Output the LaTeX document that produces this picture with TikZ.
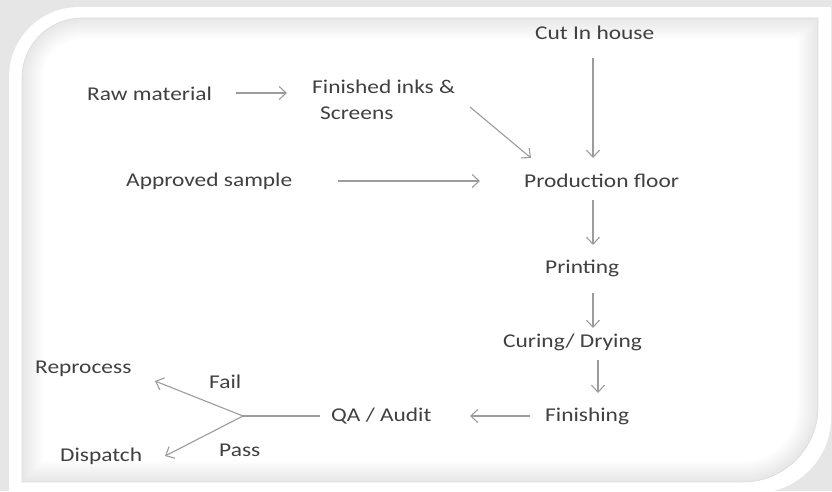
\documentclass[tikz,border=0pt]{standalone}
\usepackage{fontspec}
\setmainfont[FakeStretch=1.2]{Carlito}
\usetikzlibrary{arrows.meta,calc}
\definecolor{txt}{HTML}{404040}
\definecolor{arrc}{HTML}{9C9C9C}
\definecolor{bgc}{HTML}{E6E6E6}
\begin{document}
\begin{tikzpicture}[x=1pt,y=-1pt,
  lbl/.style={font=\fontsize{19.5}{23}\selectfont, text=txt, inner sep=0pt, anchor=west},
  conn/.style={draw=arrc, line width=1.1pt, -{Straight Barb[length=7pt,width=13pt]}},
  plainline/.style={draw=arrc, line width=1.1pt}]
\useasboundingbox (0,0) rectangle (832,491);
\fill[bgc] (0,0) rectangle (832,491);
% outer white frame
\fill[white] (9,495) -- (9,77) .. controls (9,38.4) and (40.4,7) .. (79,7) -- (831,7)
  -- (831,418) .. controls (831,459) and (797,493) .. (756,493) -- (9,493) -- cycle;
% inner panel with soft inner glow
\def\panel{(22,482) -- (22,78) .. controls (22,44.9) and (48.9,18) .. (82,18) -- (818,18) -- (818,407) .. controls (818,448.4) and (784.4,482) .. (743,482) -- cycle}
\fill[white] \panel;
\begin{scope}
  \clip \panel;
  \foreach \k in {1,...,12}{
    \draw[black, opacity=0.008, line width=3.5*\k pt] \panel;
  }
\end{scope}
\draw[black!14, line width=0.6pt] \panel;
% nodes (placed by their left edge)
\node[lbl] (cut) at (535,33) {Cut In house};
\node[lbl] (raw) at (87,94) {Raw material};
\node[lbl] (fin) at (312,87) {Finished inks \&};
\node[lbl] (scr) at (320,113) {Screens};
\node[lbl] (appr) at (126,181) {Approved sample};
\node[lbl] (prod) at (524,181) {Production floor};
\node[lbl] (print) at (545,268) {Printing};
\node[lbl] (cure) at (503,342) {Curing/ Drying};
\node[lbl] (finish) at (545,416) {Finishing};
\node[lbl] (qa) at (331,416) {QA / Audit};
\node[lbl] (repro) at (35,369) {Reprocess};
\node[lbl] (disp) at (60,456) {Dispatch};
\node[lbl] (fail) at (209,382) {Fail};
\node[lbl] (pass) at (219,450) {Pass};
\coordinate (br) at (243,416);
% connectors
\draw[conn] ($(raw.west)+(149,-1)$) -- ($(fin.west)+(-25,6)$);
\draw[conn] ($(fin.west)+(158,20)$) -- ($(prod.west)+(7,-23)$);
\draw[conn] ($(cut.west)+(58,25)$) -- ($(prod.west)+(69,-23)$);
\draw[conn] ($(appr.west)+(212,0)$) -- ($(prod.west)+(-44,0)$);
\draw[conn] ($(prod.west)+(69,19)$) -- ($(print.west)+(48,-23)$);
\draw[conn] ($(print.west)+(48,25)$) -- ($(cure.west)+(90,-14)$);
\draw[conn] ($(cure.west)+(95,18)$) -- ($(finish.west)+(53,-23)$);
\draw[conn] ($(finish.west)+(-15,0)$) -- ($(qa.west)+(139,0)$);
\draw[plainline] ($(qa.west)+(-11,0)$) -- (br);
\draw[conn] (br) -- ($(repro.west)+(120,12)$);
\draw[conn] (br) -- ($(disp.west)+(105,0)$);
\end{tikzpicture}
\end{document}
